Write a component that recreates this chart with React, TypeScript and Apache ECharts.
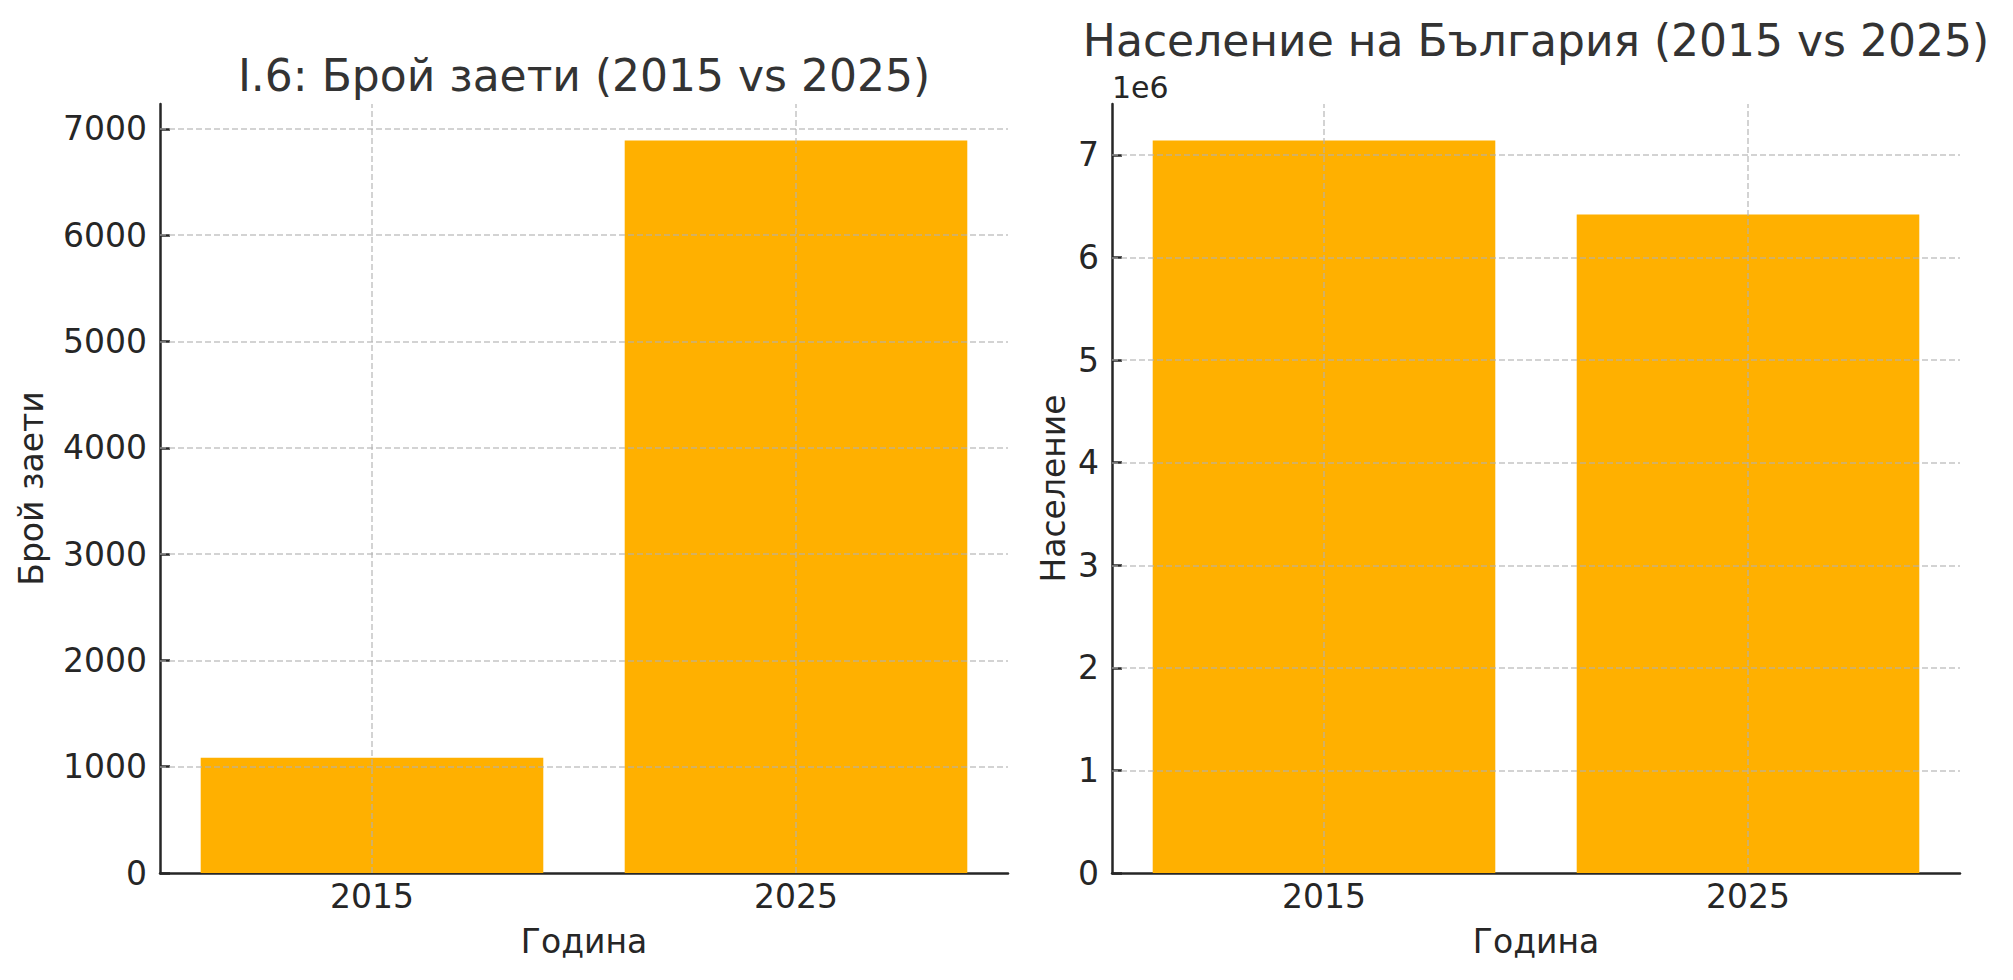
import React, { useEffect, useRef } from "react";
import * as echarts from "echarts";

const YEARS = ["2015", "2025"];
const EMPLOYED = [1085, 6890];
const POPULATION = [7140000, 6420000];
const EMPLOYED_TICKS = [0, 1000, 2000, 3000, 4000, 5000, 6000, 7000];
const POP_TICKS = [0, 1000000, 2000000, 3000000, 4000000, 5000000, 6000000, 7000000];

const TITLE_LEFT = "I.6: Брой заети (2015 vs 2025)";
const TITLE_RIGHT = "Население на България (2015 vs 2025)";
const XNAME = "Година";
const YNAME_LEFT = "Брой заети";
const YNAME_RIGHT = "Население";
const OFFSET_TEXT = "1e6";

const FONT = "DejaVu Sans";
const BAR = "#FFB000";
const AXIS = "#262626";
const GRID = "rgba(176,176,176,0.75)";

export default function App() {
  const ref = useRef<HTMLDivElement>(null);
  useEffect(() => {
    if (!ref.current) return;
    const chart = echarts.init(ref.current, undefined, { renderer: "svg" });

    const gridLines = (ticks: number[]) => ({
      silent: true,
      symbol: "none",
      label: { show: false },
      lineStyle: { color: GRID, type: [6, 3], width: 1.5 },
      data: [
        ...ticks.filter((t) => t !== 0).map((t) => ({ yAxis: t })),
        ...YEARS.map((y) => ({ xAxis: y })),
      ],
    });

    const xAxisBase = (gi: number) => ({
      type: "category",
      gridIndex: gi,
      data: YEARS,
      name: XNAME,
      nameLocation: "middle",
      nameGap: 52,
      nameTextStyle: { fontFamily: FONT, fontSize: 33, color: AXIS },
      axisLine: { show: true, lineStyle: { color: AXIS, width: 2.5 } },
      axisTick: { show: true, inside: true, alignWithLabel: true, length: 10, lineStyle: { color: AXIS, width: 2.5 } },
      axisLabel: { fontFamily: FONT, fontSize: 33, color: AXIS, margin: 7 },
      splitLine: { show: false },
    });

    const yAxisBase = (gi: number, max: number, ticks: number[], name: string, gap: number, fmt: (v: number) => string) => ({
      type: "value",
      gridIndex: gi,
      min: 0,
      max,
      name,
      nameLocation: "middle",
      nameGap: gap,
      nameTextStyle: { fontFamily: FONT, fontSize: 33, color: AXIS },
      axisLine: { show: true, lineStyle: { color: AXIS, width: 2.5 } },
      axisTick: { show: true, inside: true, length: 10, customValues: ticks, lineStyle: { color: AXIS, width: 2.5 } },
      axisLabel: { fontFamily: FONT, fontSize: 33, color: AXIS, margin: 13, customValues: ticks, formatter: fmt },
      splitLine: { show: false },
    });

    const option: any = {
      animation: false,
      backgroundColor: "#ffffff",
      title: [
        {
          text: TITLE_LEFT,
          left: 584,
          top: 53,
          padding: 0,
          textAlign: "center",
          textStyle: { fontFamily: FONT, fontSize: 44, fontWeight: "normal", color: "#333333" },
        },
        {
          text: TITLE_RIGHT,
          left: 1536,
          top: 18,
          padding: 0,
          textAlign: "center",
          textStyle: { fontFamily: FONT, fontSize: 44, fontWeight: "normal", color: "#333333" },
        },
      ],
      graphic: [
        {
          type: "text",
          x: 1112,
          y: 87,
          style: {
            text: OFFSET_TEXT,
            font: `30px "${FONT}"`,
            fill: AXIS,
            textAlign: "left",
            textVerticalAlign: "middle",
          },
        },
      ],
      grid: [
        { left: 160, top: 104, width: 848, bottom: 980 - 873, containLabel: false },
        { left: 1112, top: 104, width: 848, bottom: 980 - 873, containLabel: false },
      ],
      xAxis: [xAxisBase(0), xAxisBase(1)],
      yAxis: [
        yAxisBase(0, Math.max(...EMPLOYED) * 1.05, EMPLOYED_TICKS, YNAME_LEFT, 112, (v: number) => String(v)),
        yAxisBase(1, Math.max(...POPULATION) * 1.05, POP_TICKS, YNAME_RIGHT, 42, (v: number) => String(Math.round(v / 1e6))),
      ],
      series: [
        {
          type: "bar",
          xAxisIndex: 0,
          yAxisIndex: 0,
          data: EMPLOYED,
          barWidth: "80.8%",
          itemStyle: { color: BAR },
          markLine: gridLines(EMPLOYED_TICKS),
        },
        {
          type: "bar",
          xAxisIndex: 1,
          yAxisIndex: 1,
          data: POPULATION,
          barWidth: "80.8%",
          itemStyle: { color: BAR },
          markLine: gridLines(POP_TICKS),
        },
      ],
    };
    chart.setOption(option);
    return () => chart.dispose();
  }, []);
  return (
    <div
      ref={ref}
      style={{ position: "fixed", left: 0, top: 0, width: 2013, height: 980, background: "#fff" }}
    />
  );
}
